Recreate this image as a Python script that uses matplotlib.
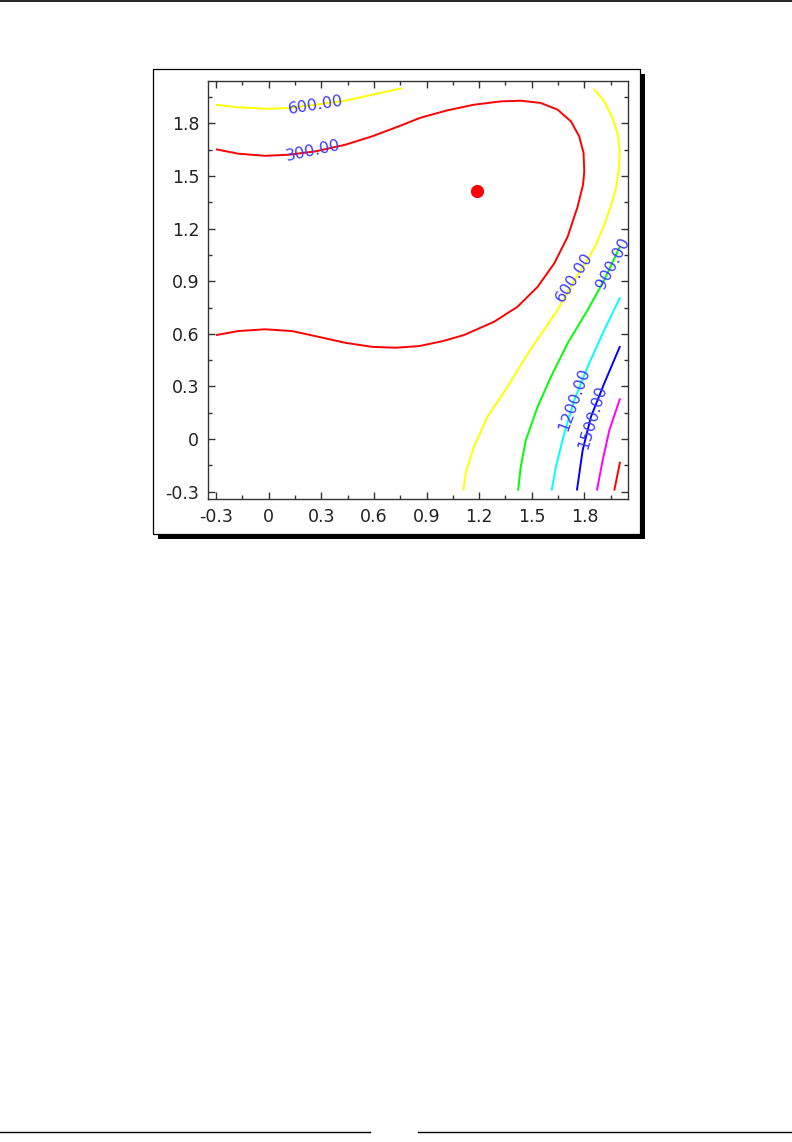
import matplotlib.pyplot as plt
from matplotlib.lines import Line2D
from matplotlib.patches import Rectangle
from matplotlib.ticker import MultipleLocator, FuncFormatter

# ===== Data =====
levels = [300, 600, 900, 1200, 1500, 1800, 2100]
level_colors = ['#ff0000', '#ffff00', '#00ff00', '#00ffff', '#0000ff', '#ff00ff', '#ff0000']

# level 300: loop opening to the left edge
c300_x = [-0.3, -0.173, -0.02, 0.113, 0.266, 0.437, 0.59, 0.742, 0.866, 1.018, 1.17, 1.323,
          1.437, 1.551, 1.647, 1.723, 1.77, 1.795, 1.799, 1.792, 1.761, 1.704, 1.628,
          1.533, 1.418, 1.285, 1.113, 0.99, 0.856, 0.723, 0.59, 0.437, 0.285, 0.133,
          -0.02, -0.173, -0.3]
c300_y = [1.652, 1.627, 1.615, 1.621, 1.64, 1.678, 1.726, 1.783, 1.832, 1.874, 1.906, 1.925,
          1.929, 1.916, 1.878, 1.811, 1.726, 1.631, 1.526, 1.45, 1.325, 1.153, 1.002,
          0.868, 0.754, 0.669, 0.593, 0.558, 0.53, 0.521, 0.526, 0.549, 0.583, 0.616,
          0.626, 0.616, 0.593]

# level 600, two branches
c600a_x = [-0.3, -0.173, -0.02, 0.113, 0.266, 0.437, 0.59, 0.761]
c600a_y = [1.906, 1.891, 1.883, 1.887, 1.906, 1.929, 1.963, 2.0]
c600b_x = [1.852, 1.913, 1.961, 1.99, 2.001, 1.997, 1.98, 1.951, 1.913, 1.866, 1.818,
           1.761, 1.647, 1.494, 1.361, 1.247, 1.17, 1.123, 1.11]
c600b_y = [1.997, 1.925, 1.83, 1.735, 1.64, 1.545, 1.431, 1.33, 1.222, 1.108, 1.022,
           0.937, 0.736, 0.513, 0.298, 0.127, -0.044, -0.195, -0.293]

c900_x = [2.003, 1.913, 1.818, 1.704, 1.609, 1.533, 1.466, 1.437, 1.422]
c900_y = [1.1, 0.907, 0.736, 0.546, 0.355, 0.184, -0.006, -0.158, -0.293]

c1200_x = [2.003, 1.913, 1.818, 1.742, 1.685, 1.637, 1.613]
c1200_y = [0.808, 0.622, 0.412, 0.222, 0.033, -0.158, -0.293]

c1500_x = [2.003, 1.913, 1.837, 1.79, 1.757]
c1500_y = [0.53, 0.318, 0.127, -0.063, -0.293]

c1800_x = [2.003, 1.942, 1.904, 1.871]
c1800_y = [0.232, 0.051, -0.12, -0.293]

c2100_x = [2.003, 1.97]
c2100_y = [-0.129, -0.293]

# contour labels: text, x, y, angle
label_text = ['600.00', '300.00', '600.00', '900.00', '1200.00', '1500.00']
label_x = [0.27, 0.256, 1.745, 1.961, 1.745, 1.847]
label_y = [1.903, 1.646, 0.925, 1.005, 0.225, 0.127]
label_rot = [9, 12, 57, 62, 70, 73]

point_x, point_y = 1.19, 1.412

# ===== Figure / page =====
W, H = 792, 1142
fig = plt.figure(figsize=(W / 100, H / 100), dpi=100)

def fx(px):
    return px / W

def fy(py):
    return 1 - py / H

# page rules
fig.add_artist(Line2D([0, 1], [fy(0.8), fy(0.8)], color='black', lw=1.2))
fig.add_artist(Line2D([0, fx(370)], [fy(1131.5), fy(1131.5)], color='black', lw=1.0))
fig.add_artist(Line2D([fx(418), 1], [fy(1131.5), fy(1131.5)], color='black', lw=1.0))

# boxed image with drop shadow (behind the axes)
fig.add_artist(Rectangle((fx(158), fy(539)), fx(639 - 152), 1 - fy(465),
                         facecolor='black', edgecolor='none', zorder=-3))
fig.add_artist(Rectangle((fx(152.5), fy(533.5)), fx(639.5 - 152.5), 1 - fy(465),
                         facecolor='white', edgecolor='black', lw=0.9, zorder=-2))

ax = fig.add_axes([fx(207.7), fy(499.3), fx(628.3 - 207.7), 1 - fy(499.3 - 80.7)])
ax.patch.set_alpha(0)

series = [
    (c300_x, c300_y, 0),
    (c600a_x, c600a_y, 1),
    (c600b_x, c600b_y, 1),
    (c900_x, c900_y, 2),
    (c1200_x, c1200_y, 3),
    (c1500_x, c1500_y, 4),
    (c1800_x, c1800_y, 5),
    (c2100_x, c2100_y, 6),
]
for xs, ys, k in series:
    ax.plot(xs, ys, color=level_colors[k], lw=1.4, solid_capstyle='butt',
            solid_joinstyle='round')

for t, x, y, r in zip(label_text, label_x, label_y, label_rot):
    ax.text(x, y, t, color='#3b3bff', fontsize=11.5, rotation=r,
            ha='center', va='center', rotation_mode='anchor')

ax.plot([point_x], [point_y], 'o', color='#ff0000', markersize=9.5, mec='none')

ax.set_xlim(-0.347, 2.05)
ax.set_ylim(-0.343, 2.043)

# ===== Sage-like frame and ticks =====
for s in ax.spines.values():
    s.set_color('#333333')
    s.set_linewidth(1.0)
ax.xaxis.set_major_locator(MultipleLocator(0.3))
ax.yaxis.set_major_locator(MultipleLocator(0.3))
ax.xaxis.set_minor_locator(MultipleLocator(0.15))
ax.yaxis.set_minor_locator(MultipleLocator(0.15))
fmt = FuncFormatter(lambda v, pos: '%g' % round(v, 2) if abs(v) > 1e-9 else '0')
ax.xaxis.set_major_formatter(fmt)
ax.yaxis.set_major_formatter(fmt)
ax.tick_params(which='both', direction='in', top=True, right=True, color='#333333',
               width=1.0, labelsize=12.5, labelcolor='#222222', pad=6)
ax.tick_params(which='major', length=5)
ax.tick_params(which='minor', length=3)

fig.savefig('out.png', dpi=100)
